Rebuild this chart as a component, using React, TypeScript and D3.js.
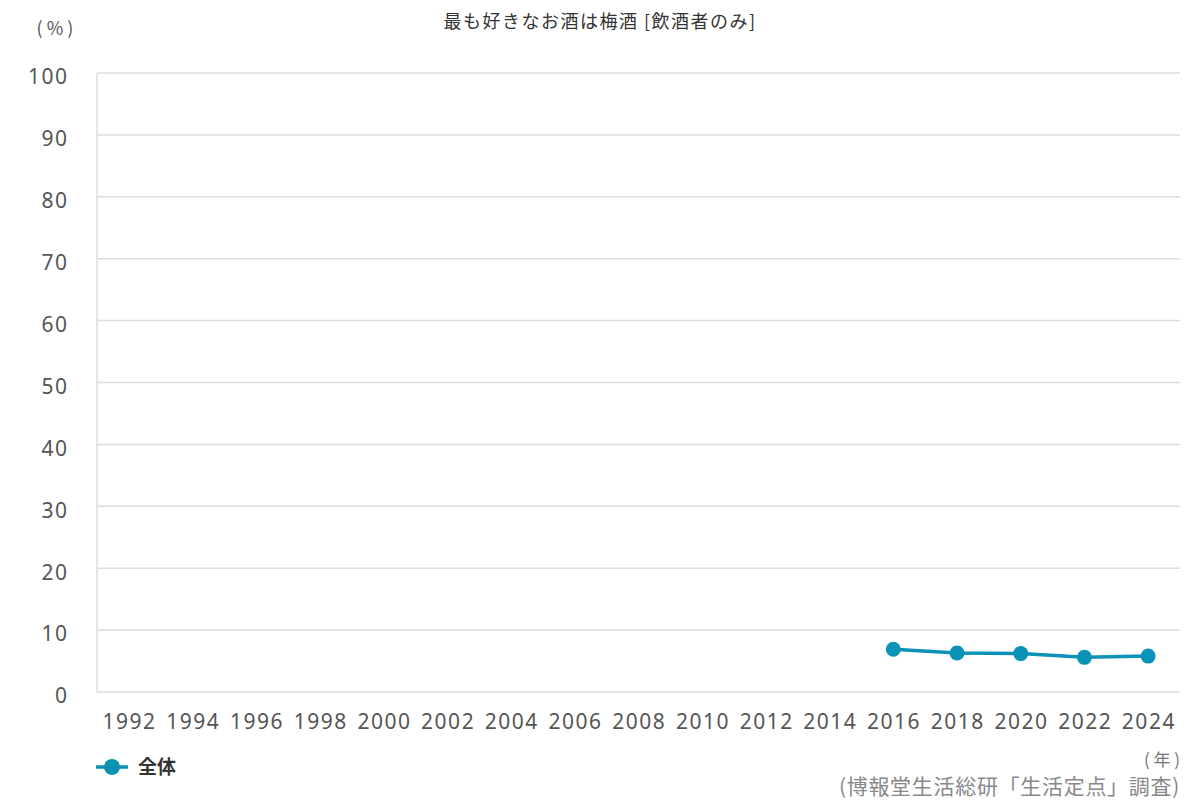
import { useEffect, useRef } from "react";
import * as d3 from "d3";

const years = [
  "1992", "1994", "1996", "1998", "2000", "2002", "2004", "2006", "2008",
  "2010", "2012", "2014", "2016", "2018", "2020", "2022", "2024",
];
const yTicks = [0, 10, 20, 30, 40, 50, 60, 70, 80, 90, 100];
const seriesYears = ["2016", "2018", "2020", "2022", "2024"];
const seriesValues = [6.9, 6.3, 6.2, 5.6, 5.8];
const seriesName = "全体";

const title = "最も好きなお酒は梅酒 [飲酒者のみ]";
const yUnit = "( % )";
const xUnit = "( 年 )";
const source = "(博報堂生活総研「生活定点」調査)";

const TEAL = "#0a93b6";
const FONT = "'Noto Sans CJK JP', 'Noto Sans', sans-serif";
const NUM_FONT = "'Noto Sans', 'Noto Sans CJK JP', sans-serif";

export default function App() {
  const ref = useRef<SVGSVGElement>(null);

  useEffect(() => {
    if (!ref.current) return;
    const width = 1200;
    const height = 800;
    const margin = { top: 73, right: 20, bottom: 108, left: 97 };

    const svg = d3.select(ref.current);
    svg.selectAll("*").remove();
    svg.attr("width", width).attr("height", height);

    const x = d3
      .scaleBand()
      .domain(years)
      .range([margin.left, width - margin.right])
      .padding(0);

    const y = d3
      .scaleLinear()
      .domain([0, 100])
      .range([height - margin.bottom, margin.top]);

    // gridlines
    svg
      .append("g")
      .attr("stroke", "#dcdcdc")
      .attr("stroke-width", 1.5)
      .selectAll("line")
      .data(yTicks)
      .join("line")
      .attr("x1", margin.left)
      .attr("x2", width - margin.right)
      .attr("y1", (d) => y(d))
      .attr("y2", (d) => y(d));

    // left axis line
    svg
      .append("line")
      .attr("x1", margin.left)
      .attr("x2", margin.left)
      .attr("y1", y(100))
      .attr("y2", y(0))
      .attr("stroke", "#dcdcdc")
      .attr("stroke-width", 1.5);

    // y labels
    svg
      .append("g")
      .selectAll("text")
      .data(yTicks)
      .join("text")
      .attr("x", 68.5)
      .attr("y", (d) => y(d) + 4)
      .attr("dy", "0.35em")
      .attr("text-anchor", "end")
      .attr("fill", "#555")
      .attr("font-size", 21)
      .attr("letter-spacing", 1.5)
      .attr("font-family", NUM_FONT)
      .text((d) => d);

    // x labels
    svg
      .append("g")
      .selectAll("text")
      .data(years)
      .join("text")
      .attr("x", (d) => (x(d) ?? 0) + x.bandwidth() / 2 + 0.75)
      .attr("y", 722)
      .attr("dy", "0.35em")
      .attr("text-anchor", "middle")
      .attr("fill", "#555")
      .attr("font-size", 21)
      .attr("letter-spacing", 1.5)
      .attr("font-family", NUM_FONT)
      .text((d) => d);

    // title & units
    svg
      .append("text")
      .attr("x", 600)
      .attr("y", 22)
      .attr("dy", "0.35em")
      .attr("text-anchor", "middle")
      .attr("fill", "#333")
      .attr("font-size", 18)
      .attr("letter-spacing", 1.5)
      .attr("font-family", FONT)
      .text(title);

    svg
      .append("text")
      .attr("x", 55)
      .attr("y", 29)
      .attr("dy", "0.35em")
      .attr("text-anchor", "middle")
      .attr("fill", "#555")
      .attr("font-size", 18)
      .attr("font-family", FONT)
      .text(yUnit);

    svg
      .append("text")
      .attr("x", 1180)
      .attr("y", 760)
      .attr("dy", "0.35em")
      .attr("text-anchor", "end")
      .attr("fill", "#777")
      .attr("font-size", 17)
      .attr("font-family", FONT)
      .text(xUnit);

    svg
      .append("text")
      .attr("x", 1180)
      .attr("y", 787)
      .attr("dy", "0.35em")
      .attr("text-anchor", "end")
      .attr("fill", "#888")
      .attr("font-size", 21)
      .attr("letter-spacing", 0.7)
      .attr("font-family", FONT)
      .text(source);

    // series
    const pts = seriesYears.map((yr, i) => ({ yr, v: seriesValues[i] }));
    const line = d3
      .line<{ yr: string; v: number }>()
      .x((d) => (x(d.yr) ?? 0) + x.bandwidth() / 2)
      .y((d) => y(d.v));

    svg
      .append("path")
      .datum(pts)
      .attr("d", line)
      .attr("fill", "none")
      .attr("stroke", TEAL)
      .attr("stroke-width", 3.5);

    svg
      .append("g")
      .selectAll("circle")
      .data(pts)
      .join("circle")
      .attr("cx", (d) => (x(d.yr) ?? 0) + x.bandwidth() / 2)
      .attr("cy", (d) => y(d.v))
      .attr("r", 7.5)
      .attr("fill", TEAL);

    // legend
    const lg = svg.append("g").attr("transform", "translate(96,767)");
    lg.append("line")
      .attr("x1", 0)
      .attr("x2", 32)
      .attr("stroke", TEAL)
      .attr("stroke-width", 3.5);
    lg.append("circle").attr("cx", 16).attr("r", 8).attr("fill", TEAL);
    lg.append("text")
      .attr("x", 42)
      .attr("dy", "0.35em")
      .attr("fill", "#333")
      .attr("font-size", 19)
      .attr("font-weight", "bold")
      .attr("font-family", FONT)
      .text(seriesName);
  }, []);

  return (
    <div style={{ position: "absolute", left: 0, top: 0, background: "#fff" }}>
      <svg ref={ref} style={{ display: "block" }} />
    </div>
  );
}
